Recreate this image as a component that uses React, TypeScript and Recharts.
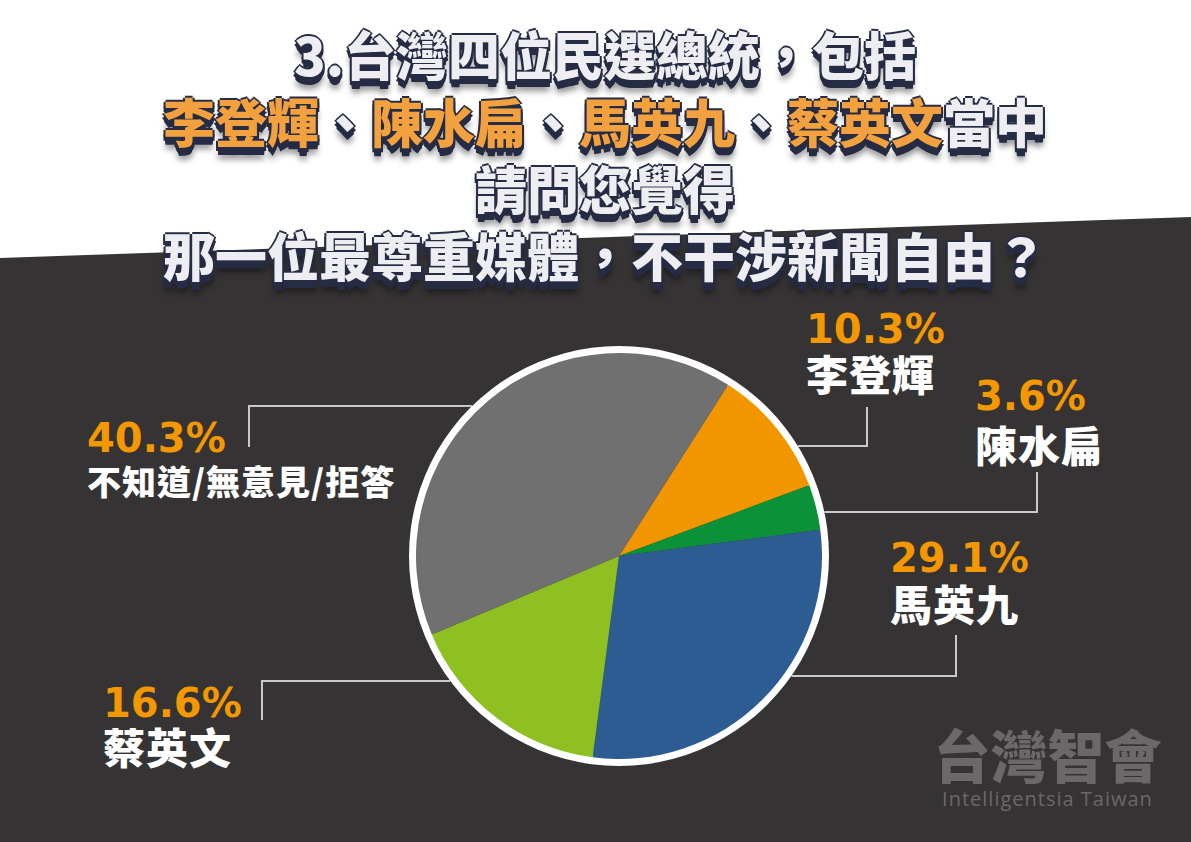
import React from "react";
import { Pie, PieChart, Cell } from "recharts";

const W = 1191;
const H = 842;
const CX = 619;
const CY = 556;
const R_FILL = 203;
const R_RING = 210;

const BG_DARK = "#363334";
const PCT = "#f39800";
const LINE = "#c9c9c9";
const SHADE = "#262c44";

// poll answers, clockwise from the top right
const names = ["李登輝", "陳水扁", "馬英九", "蔡英文", "不知道/無意見/拒答"];
const shares = [10.3, 3.6, 29.1, 16.6, 40.3];
const colors = ["#f29600", "#0b9239", "#2c5c91", "#8fc021", "#717070"];

const titleLines: { text: string; hot?: boolean }[][] = [
  [{ text: "3.台灣四位民選總統，包括" }],
  [
    { text: "李登輝", hot: true },
    { text: "、" },
    { text: "陳水扁", hot: true },
    { text: "、" },
    { text: "馬英九", hot: true },
    { text: "、" },
    { text: "蔡英文", hot: true },
    { text: "當中" },
  ],
  [{ text: "請問您覺得" }],
  [{ text: "那一位最尊重媒體，不干涉新聞自由？" }],
];

const data = names.map((name, i) => ({ name, value: shares[i] }));

// where each callout sits (page px): leader line height, elbow, text block
const callouts = [
  { side: 1, lineY: 446, elbowX: 867, endY: 407, textX: 806, pctY: 343, nameY: 391, nameSize: 42 },
  { side: 1, lineY: 512, elbowX: 1037, endY: 472, textX: 975, pctY: 410, nameY: 462, nameSize: 42 },
  { side: 1, lineY: 676, elbowX: 956, endY: 635, textX: 890, pctY: 572, nameY: 621, nameSize: 42 },
  { side: -1, lineY: 681, elbowX: 262, endY: 720, textX: 103, pctY: 717, nameY: 764, nameSize: 42 },
  { side: -1, lineY: 406, elbowX: 249, endY: 447, textX: 87, pctY: 452, nameY: 495, nameSize: 34 },
];

function Callout(props: any) {
  const { cx, cy, index, value, name } = props;
  const c = callouts[index];
  if (!c) return null;
  const dy = c.lineY - cy;
  const edgeX = cx + c.side * Math.sqrt(Math.max(0, R_RING * R_RING - dy * dy));
  return (
    <g>
      <polyline
        points={`${edgeX},${c.lineY} ${c.elbowX},${c.lineY} ${c.elbowX},${c.endY}`}
        fill="none"
        stroke={LINE}
        strokeWidth={2}
      />
      <text
        x={c.textX}
        y={c.pctY}
        fill={PCT}
        fontFamily="DejaVu Sans"
        fontWeight={700}
        fontSize={40}
      >
        {`${value}%`}
      </text>
      <text
        x={c.textX}
        y={c.nameY}
        fill="#ffffff"
        fontFamily="'Noto Sans CJK TC'"
        fontWeight={900}
        fontSize={c.nameSize}
        letterSpacing={1}
      >
        {name}
      </text>
    </g>
  );
}

const extrude = [
  ...Array.from({ length: 8 }, (_, i) => `0 ${i + 1}px 0 ${SHADE}`),
  `-2px 0 0 ${SHADE}`,
  `2px 0 0 ${SHADE}`,
  `0 -2px 0 ${SHADE}`,
  `-2px 4px 0 ${SHADE}`,
  `2px 4px 0 ${SHADE}`,
  `0 12px 6px rgba(0,0,0,0.45)`,
].join(", ");

export default function App() {
  return (
    <div
      style={{
        position: "fixed",
        left: 0,
        top: 0,
        width: W,
        height: H,
        background: "#ffffff",
        overflow: "hidden",
      }}
    >
      <svg width={W} height={H} style={{ position: "absolute", left: 0, top: 0 }}>
        <polygon points={`0,258 ${W},217 ${W},${H} 0,${H}`} fill={BG_DARK} />
      </svg>

      <div style={{ position: "absolute", left: 0, top: 20, width: 1210, textAlign: "center" }}>
        {titleLines.map((line, i) => (
          <div
            key={i}
            style={{
              height: 67,
              lineHeight: "67px",
              fontFamily: "'Noto Sans CJK TC'",
              fontWeight: 900,
              fontSize: 52,
              color: "#eeeef2",
              textShadow: extrude,
              whiteSpace: "nowrap",
            }}
          >
            {line.map((part, j) => (
              <span key={j} style={{ color: part.hot ? "#f3a03e" : "#eeeef2" }}>
                {part.text}
              </span>
            ))}
          </div>
        ))}
      </div>

      <div style={{ position: "absolute", left: 0, top: 0 }}>
        <PieChart width={W} height={H} margin={{ top: 0, right: 0, bottom: 0, left: 0 }}>
          <Pie
            data={[{ name: "ring", value: 1 }]}
            dataKey="value"
            cx={CX}
            cy={CY}
            innerRadius={R_FILL - 2}
            outerRadius={R_RING}
            fill="#ffffff"
            stroke="none"
            isAnimationActive={false}
          />
          <Pie
            data={data}
            dataKey="value"
            nameKey="name"
            cx={CX}
            cy={CY}
            outerRadius={R_FILL}
            startAngle={57.5}
            endAngle={-302.5}
            stroke="none"
            label={Callout}
            labelLine={false}
            isAnimationActive={false}
          >
            {data.map((d, i) => (
              <Cell key={d.name} fill={colors[i]} />
            ))}
          </Pie>
        </PieChart>
      </div>

      <div
        style={{
          position: "absolute",
          left: 930,
          top: 718,
          width: 235,
          textAlign: "center",
          color: "#6a6869",
        }}
      >
        <div
          style={{
            fontFamily: "'Noto Sans CJK TC'",
            fontWeight: 900,
            fontSize: 57,
            lineHeight: "70px",
          }}
        >
          台灣智會
        </div>
        <div style={{ fontFamily: "'Open Sans'", fontSize: 20, lineHeight: "22px", letterSpacing: 1 }}>
          Intelligentsia Taiwan
        </div>
      </div>
    </div>
  );
}
